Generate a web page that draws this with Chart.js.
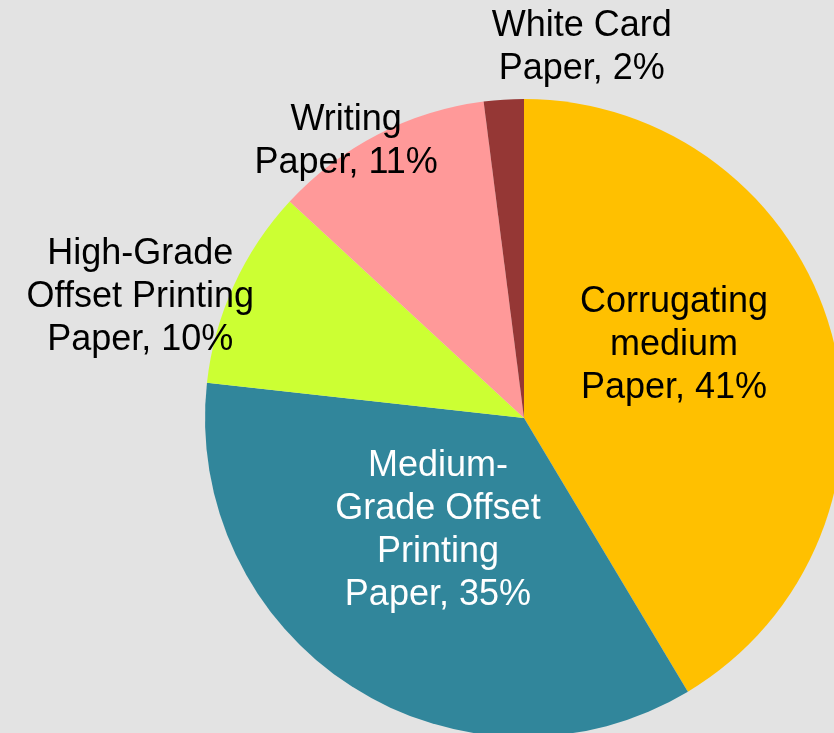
<!DOCTYPE html>
<html>
<head>
<meta charset="utf-8">
<script src="https://cdn.jsdelivr.net/npm/chart.js@4"></script>
<style>
    html, body { margin: 0; padding: 0; background: #e3e3e3; overflow: hidden; }
    #wrap { position: absolute; left: 0; top: 0; width: 900px; height: 800px; }
</style>
</head>
<body>
<div id="wrap"><canvas id="paperChart" width="900" height="800"></canvas></div>
<script>
// Paper output by grade, share in percent (clockwise from 12 o'clock)
var categories = ['Corrugating medium Paper', 'Medium-Grade Offset Printing Paper',
                  'High-Grade Offset Printing Paper', 'Writing Paper', 'White Card Paper'];
var shares     = [41, 35, 10, 11, 2];

// label text split into lines
var labelLines = [
    ['Corrugating', 'medium', 'Paper, 41%'],
    ['Medium-', 'Grade Offset', 'Printing', 'Paper, 35%'],
    ['High-Grade', 'Offset Printing', 'Paper, 10%'],
    ['Writing', 'Paper, 11%'],
    ['White Card', 'Paper, 2%']
];

var sliceColors = ['#ffc000', '#31869b', '#ccff33', '#ff9999', '#953735'];
var labelColors = ['#000000', '#ffffff', '#000000', '#000000', '#000000'];

// label placement: angle shift from slice middle (deg), distance as fraction of radius
var labelShift  = [-10.5, 4.6, -7.1, -5.5, 12.5];
var labelRadius = [0.523, 0.445, 1.261, 1.03, 1.174];

var pieLabels = {
    id: 'pieLabels',
    afterDatasetsDraw: function(chart) {
        var ctx = chart.ctx;
        var arcs = chart.getDatasetMeta(0).data;
        ctx.save();
        ctx.font = '36px "Liberation Sans", Arial, sans-serif';
        ctx.textAlign = 'center';
        ctx.textBaseline = 'middle';
        arcs.forEach(function(arc, i) {
            var p = arc.getProps(['x', 'y', 'startAngle', 'endAngle', 'outerRadius'], true);
            var a = (p.startAngle + p.endAngle) / 2 + labelShift[i] * Math.PI / 180;
            var r = p.outerRadius * labelRadius[i];
            var cx = p.x + Math.cos(a) * r;
            var cy = p.y + Math.sin(a) * r;
            var lines = labelLines[i];
            var lh = 43;
            var y0 = cy - (lines.length - 1) * lh / 2;
            ctx.fillStyle = labelColors[i];
            lines.forEach(function(t, k) { ctx.fillText(t, cx, y0 + k * lh); });
        });
        ctx.restore();
    }
};

new Chart(document.getElementById('paperChart').getContext('2d'), {
    type: 'pie',
    data: {
        labels: categories,
        datasets: [{
            data: shares,
            backgroundColor: sliceColors,
            borderWidth: 0,
            hoverOffset: 0,
            offset: 0
        }]
    },
    options: {
        responsive: false,
        animation: false,
        layout: { padding: { left: 205, top: 99, right: 57, bottom: 63 } },
        plugins: {
            legend: { display: false },
            tooltip: { enabled: false }
        }
    },
    plugins: [pieLabels]
});
</script>
</body>
</html>
